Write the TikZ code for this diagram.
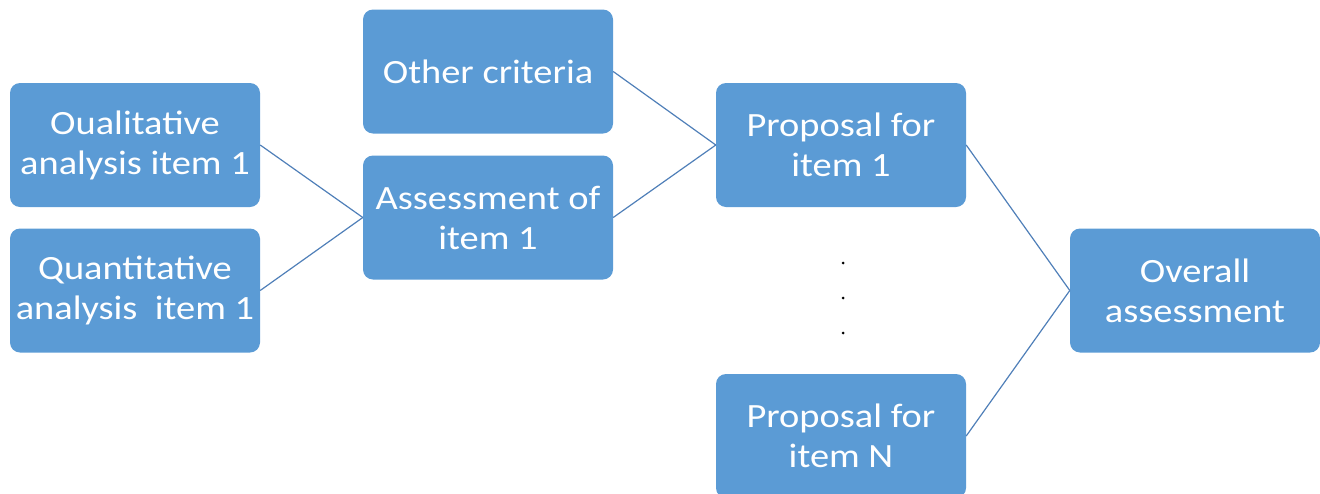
\documentclass[tikz,border=0pt]{standalone}
\usepackage{fontspec}
\setmainfont[FakeStretch=1.13]{Carlito}
\definecolor{boxblue}{HTML}{5B9BD5}
\definecolor{lineblue}{HTML}{4F7FB8}
\begin{document}
\begin{tikzpicture}[x=1pt,y=-1pt,
  box/.style={fill=boxblue, draw=none, rounded corners=10pt, minimum width=250pt, minimum height=124pt,
    text=white, align=center, inner sep=0pt, font=\fontsize{34}{40}\selectfont},
  conn/.style={draw=lineblue, line width=1.2pt}]
\useasboundingbox (0,0) rectangle (1320,493);
\node[box] (qual) at (135,145) {Oualitative\\analysis item 1};
\node[box] (quant) at (135,290.5) {Quantitative\\analysis\ \ item 1};
\node[box] (other) at (488,71.5) {Other criteria};
\node[box] (assess) at (488,217.5) {Assessment of\\item 1};
\node[box] (prop1) at (841,145) {Proposal for\\item 1};
\node[box] (propN) at (841,436) {Proposal for\\item N};
\node[box] (overall) at (1195,290.5) {Overall\\assessment};
\draw[conn] (qual.east) -- (assess.west);
\draw[conn] (quant.east) -- (assess.west);
\draw[conn] (other.east) -- (prop1.west);
\draw[conn] (assess.east) -- (prop1.west);
\draw[conn] (prop1.east) -- (overall.west);
\draw[conn] (propN.east) -- (overall.west);
\fill (843,263) circle (1.5pt);
\fill (843,298) circle (1.5pt);
\fill (843,333) circle (1.5pt);
\end{tikzpicture}
\end{document}
